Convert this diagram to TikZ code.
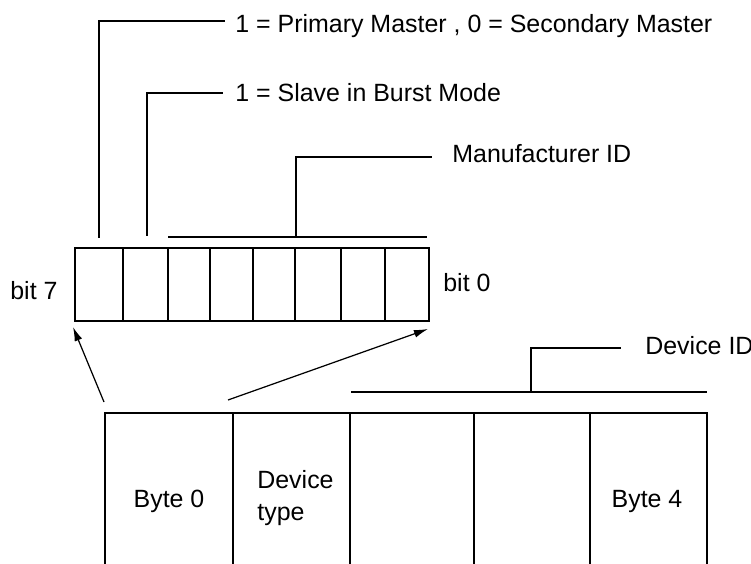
\documentclass[tikz,border=0pt]{standalone}
\usepackage{fontspec}
\setmainfont{Liberation Sans}
\usetikzlibrary{arrows.meta,positioning,calc}

\tikzset{
  reg/.style={line width=1.7pt},
  lead/.style={line width=0.8pt},
  pointer/.style={line width=0.7pt,arrows={-Latex[length=8pt,width=4.5pt]}},
  lbl/.style={inner sep=0pt,anchor=base west,font=\fontsize{14.2}{18.2}\selectfont},
}

\begin{document}
\begin{tikzpicture}[x=0.02cm,y=-0.02cm]
  \useasboundingbox (0,0) rectangle (751,564);
  % the status byte, bit 7 to bit 0
  \draw[reg] (75,248) rectangle (429,321);
  \foreach \x in {123,168,210,253,295,341,385}
    \draw[reg] (\x,248) -- (\x,321);
  \node[lbl] (bit7) at (10,300) {bit 7};
  \node[lbl] (bit0) at (443,292) {bit 0};
  % the address, byte 0 to byte 4
  \draw[reg] (105,564) -- (105,413) -- (707,413) -- (707,564);
  \foreach \x in {233,350,474,590}
    \draw[reg] (\x,413) -- (\x,564);
  \node[lbl,anchor=base] (byte0) at (169,507) {Byte 0};
  \node[lbl,align=left] (dtype) at (257,520) {Device\\type};
  \node[lbl,anchor=base] (byte4) at (647,507) {Byte 4};
  % what the bits mean
  \node[lbl] (pm) at (235,33) {1 = Primary Master , 0 = Secondary Master};
  \node[lbl] (burst) at (235,102) {1 = Slave in Burst Mode};
  \node[lbl] (manu) at (452,163) {Manufacturer ID};
  \node[lbl] (devid) at (645,355) {Device ID};
  \coordinate (pmA) at (99,238);
  \coordinate (pmB) at (225,21);
  \coordinate (bmA) at (147,236);
  \coordinate (bmB) at (223,93);
  \coordinate (mfL) at (168,237);
  \coordinate (mfR) at (427,237);
  \coordinate (mfB) at (432,157);
  \coordinate (dvL) at (351,392);
  \coordinate (dvR) at (707,392);
  \coordinate (dvB) at (621,348);
  \draw[lead] (pmA) |- (pmB);
  \draw[lead] (bmA) |- (bmB);
  \draw[lead] (mfL) -- (mfR);
  \draw[lead] (296,237) |- (mfB);
  \draw[lead] (dvL) -- (dvR);
  \draw[lead] (531,392) |- (dvB);
  % zoom from byte 0 up to its bits
  \coordinate (zl) at (104,402);
  \coordinate (zr) at (228,400);
  \coordinate (tl) at (73,327);
  \coordinate (tr) at (428,329);
  \draw[pointer] (zl) -- (tl);
  \draw[pointer] (zr) -- (tr);
\end{tikzpicture}
\end{document}
